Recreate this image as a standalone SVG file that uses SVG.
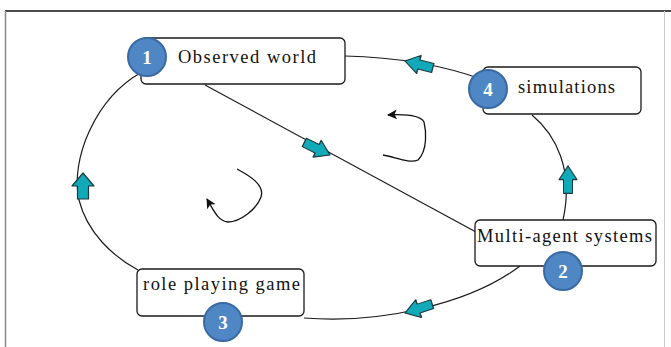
<svg xmlns="http://www.w3.org/2000/svg" width="671" height="347" viewBox="0 0 671 347">
<defs>
<style>
.box{fill:#fff;stroke:#1a1a1a;stroke-width:1.3}
.lbl{font-family:"Liberation Serif","Times New Roman",serif;font-size:18.5px;fill:#111}
.badge{fill:#4f87c4;stroke:#3a6aa3;stroke-width:2}
.num{font-family:"Liberation Serif","Times New Roman",serif;font-size:19px;font-weight:bold;fill:#fff;text-anchor:middle}
.con{fill:none;stroke:#1a1a1a;stroke-width:1.2}
.blk{fill:#12a9b9;stroke:#1b3a3e;stroke-width:1.2;stroke-linejoin:round}
.sw{fill:none;stroke:#111;stroke-width:1.3}
</style>
<polygon id="ba" points="0,0 -13,-11 -13,-5.5 -26,-5.5 -26,5.5 -13,5.5 -13,11"/>
<marker id="ah" viewBox="0 0 10 10" refX="9" refY="5" markerWidth="10" markerHeight="10" markerUnits="userSpaceOnUse" orient="auto">
<path d="M0,0 L10,5 L0,10 L2.5,5 Z" fill="#111"/>
</marker>
</defs>
<rect width="671" height="347" fill="#fff"/>
<line x1="5" y1="11" x2="671" y2="11" stroke="#111" stroke-width="1.5"/>
<line x1="5.5" y1="11" x2="5.5" y2="347" stroke="#888" stroke-width="1.5"/>
<line x1="664.5" y1="11" x2="664.5" y2="347" stroke="#ccc" stroke-width="1"/>
<g id="connectors">
<path class="con" d="M345,56 C390,57 440,64 484,80"/>
<path class="con" d="M142,72 C95,98 70,160 79,200 C87,232 112,256 138,270"/>
<path class="con" d="M304,318 C380,324 470,304 520,266"/>
<path class="con" d="M532,115 C556,135 574,170 563,220"/>
<line class="con" x1="205" y1="85" x2="476" y2="232"/>
<use href="#ba" class="blk" transform="translate(83,173) rotate(-90)"/>
<use href="#ba" class="blk" transform="translate(568,166) rotate(-90) scale(1.05,0.82)"/>
<use href="#ba" class="blk" transform="translate(405,61) rotate(194) scale(1.1,0.85)"/>
<use href="#ba" class="blk" transform="translate(405,313) rotate(162) scale(1.1,0.85)"/>
<use href="#ba" class="blk" transform="translate(330,155) rotate(26) scale(1.1,0.85)"/>
<path class="sw" d="M237,169 C250,176 265,185 261,197 C257,209 240,222 228,222 C218,221 214,211 207,199" marker-end="url(#ah)"/>
<path class="sw" d="M383,155 C395,157 410,164 418,160 C428,150 426,130 424,122 C420,115 405,114 388,115" marker-end="url(#ah)"/>
</g>
<g id="observed-world">
<rect class="box" x="141" y="38" width="204" height="46" rx="5"/>
<text class="lbl" x="178" y="63" textLength="138" lengthAdjust="spacing">Observed world</text>
<circle class="badge" cx="147" cy="57" r="19"/>
<text class="num" x="147" y="64">1</text>
</g>
<g id="simulations">
<rect class="box" x="483" y="67" width="158" height="47" rx="5"/>
<text class="lbl" x="518" y="93" textLength="97" lengthAdjust="spacing">simulations</text>
<circle class="badge" cx="488" cy="89" r="19"/>
<text class="num" x="488" y="96">4</text>
</g>
<g id="multi-agent">
<rect class="box" x="475" y="220" width="181" height="46" rx="5"/>
<text class="lbl" x="477" y="242" textLength="175" lengthAdjust="spacing">Multi-agent systems</text>
<circle class="badge" cx="563" cy="271" r="19"/>
<text class="num" x="563" y="278">2</text>
</g>
<g id="role-playing">
<rect class="box" x="137" y="269" width="167" height="47" rx="5"/>
<text class="lbl" x="143" y="290" textLength="157" lengthAdjust="spacing">role playing game</text>
<circle class="badge" cx="223" cy="322" r="19"/>
<text class="num" x="223" y="329">3</text>
</g>
</svg>
